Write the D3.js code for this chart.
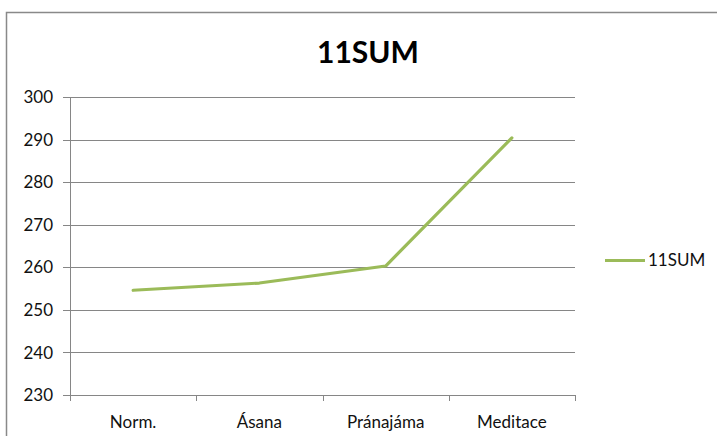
<!DOCTYPE html>
<html><head><meta charset="utf-8">
<script src="https://cdn.jsdelivr.net/npm/d3@7"></script>
<style>body{margin:0;background:#fff}svg{display:block}text{font-family:Lato,"Open Sans",sans-serif}</style>
</head><body>
<script>
const categories = ["Norm.", "Ásana", "Pránajáma", "Meditace"];
const values = [254.6, 256.3, 260.3, 290.4];
const yTicks = [230, 240, 250, 260, 270, 280, 290, 300];
const seriesName = "11SUM";
const chartTitle = "11SUM";

(function () {
const W = 717, H = 436;
const svg = d3.select("body").append("svg").attr("width", W).attr("height", H);
svg.append("rect").attr("x", 6.5).attr("y", 12.5).attr("width", 760).attr("height", 480)
  .attr("fill", "#fff").attr("stroke", "#898989").attr("stroke-width", 1.5);

const pLeft = 70, pRight = 575, pTop = 97, pBottom = 395;
const x = d3.scaleBand().domain(categories).range([pLeft, pRight]);
const y = d3.scaleLinear().domain([230, 300]).range([pBottom, pTop]);

svg.append("g").selectAll("line").data(yTicks).join("line")
  .attr("x1", pLeft - 7).attr("x2", pRight)
  .attr("y1", d => Math.round(y(d)) + 0.5).attr("y2", d => Math.round(y(d)) + 0.5)
  .attr("stroke", "#868686").attr("stroke-width", 1);

svg.append("g").selectAll("text").data(yTicks).join("text")
  .attr("x", 53).attr("y", d => y(d)).attr("dy", "0.36em")
  .attr("text-anchor", "end").attr("font-size", 17).attr("fill", "#111").text(d => d);

svg.append("line").attr("x1", pLeft + 0.5).attr("x2", pLeft + 0.5).attr("y1", pTop).attr("y2", pBottom + 6)
  .attr("stroke", "#868686");

const bounds = categories.map(c => x(c)).concat([pRight]);
svg.append("g").selectAll("line").data(bounds).join("line")
  .attr("x1", d => Math.round(d) + 0.5).attr("x2", d => Math.round(d) + 0.5)
  .attr("y1", pBottom).attr("y2", pBottom + 6).attr("stroke", "#868686");

svg.append("g").selectAll("text").data(categories).join("text")
  .attr("x", d => x(d) + x.bandwidth() / 2).attr("y", 428)
  .attr("text-anchor", "middle").attr("font-size", 17).attr("fill", "#111").text(d => d);

const pts = categories.map((c, i) => [x(c) + x.bandwidth() / 2, y(values[i])]);
svg.append("path").datum(pts).attr("d", d3.line())
  .attr("fill", "none").attr("stroke", "#9BBB59").attr("stroke-width", 3.2)
  .attr("stroke-linecap", "round").attr("stroke-linejoin", "round");

svg.append("text").attr("x", 368).attr("y", 63).attr("text-anchor", "middle")
  .attr("font-size", 30).attr("font-weight", "bold").attr("fill", "#000").text(chartTitle);

svg.append("line").attr("x1", 605).attr("x2", 645).attr("y1", 260.5).attr("y2", 260.5)
  .attr("stroke", "#9BBB59").attr("stroke-width", 3.2);
svg.append("text").attr("x", 648).attr("y", 260).attr("dy", "0.36em")
  .attr("font-size", 17).attr("fill", "#111").text(seriesName);
})();
</script>
</body></html>
